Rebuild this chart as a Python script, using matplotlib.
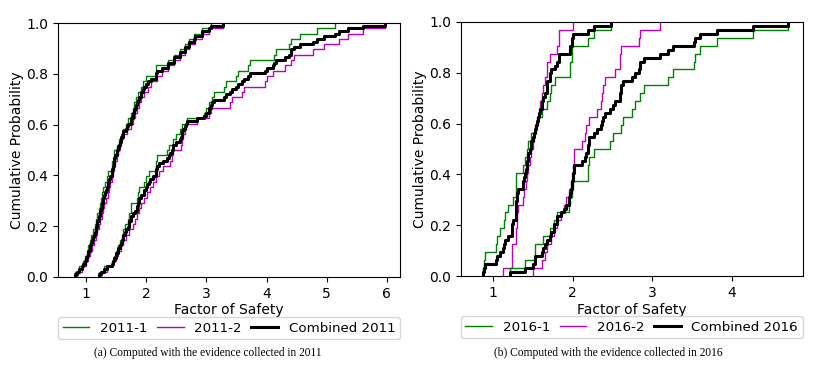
import matplotlib
matplotlib.use('Agg')
import matplotlib.pyplot as plt
import numpy as np

plt.rcParams['font.size'] = 10

# (a) 2011 - factor of safety samples, first group
fos_2011_1_a = [0.82, 0.88, 0.95, 0.99, 1.02, 1.04, 1.07, 1.09, 1.12, 1.15, 1.17, 1.19,
                1.21, 1.23, 1.25, 1.27, 1.29, 1.32, 1.35, 1.37, 1.43, 1.44, 1.46, 1.47,
                1.52, 1.55, 1.58, 1.62, 1.66, 1.70, 1.74, 1.78, 1.80, 1.83, 1.87, 1.91,
                1.95, 1.99, 2.16, 2.17, 2.36, 2.47, 2.57, 2.64, 2.72, 2.80, 2.92, 3.07]
fos_2011_2_a = [0.85, 0.93, 1.00, 1.04, 1.07, 1.10, 1.13, 1.16, 1.19, 1.22, 1.24, 1.26,
                1.28, 1.30, 1.33, 1.36, 1.38, 1.40, 1.43, 1.45, 1.47, 1.49, 1.52, 1.54,
                1.56, 1.58, 1.61, 1.68, 1.75, 1.78, 1.82, 1.85, 1.88, 1.91, 1.96, 2.03,
                2.08, 2.18, 2.27, 2.37, 2.47, 2.56, 2.64, 2.72, 2.82, 2.93, 3.05, 3.27]
# (a) 2011 - second group
fos_2011_1_b = [1.22, 1.30, 1.44, 1.47, 1.50, 1.53, 1.57, 1.60, 1.62, 1.65, 1.69, 1.72,
                1.75, 1.75, 1.85, 1.86, 1.88, 1.96, 2.00, 2.05, 2.17, 2.17, 2.18, 2.35,
                2.38, 2.45, 2.50, 2.56, 2.60, 2.68, 2.96, 3.00, 3.05, 3.10, 3.12, 3.30,
                3.32, 3.49, 3.52, 3.69, 3.72, 4.13, 4.15, 4.37, 4.40, 4.55, 4.84, 5.14]
fos_2011_2_b = [1.25, 1.35, 1.45, 1.50, 1.54, 1.58, 1.62, 1.66, 1.72, 1.78, 1.81, 1.84,
                1.88, 1.92, 1.96, 2.02, 2.07, 2.12, 2.17, 2.21, 2.28, 2.40, 2.43, 2.45,
                2.58, 2.60, 2.62, 2.64, 2.66, 2.84, 3.05, 3.08, 3.40, 3.42, 3.60, 3.62,
                3.97, 4.00, 4.10, 4.30, 4.40, 4.45, 4.77, 4.95, 5.20, 5.35, 5.60, 5.97]

# (b) 2016 - first group
fos_2016_1_a = [0.87, 0.88, 0.90, 1.04, 1.05, 1.09, 1.13, 1.15, 1.18, 1.25, 1.28, 1.28,
                1.29, 1.37, 1.40, 1.42, 1.44, 1.48, 1.54, 1.56, 1.61, 1.67, 1.71, 1.73,
                1.78, 1.96, 1.97, 1.985, 1.99, 2.19, 2.26, 2.48]
fos_2016_2_a = [1.12, 1.23, 1.23, 1.24, 1.29, 1.29, 1.30, 1.30, 1.31, 1.37, 1.39, 1.41,
                1.42, 1.44, 1.46, 1.48, 1.50, 1.51, 1.53, 1.545, 1.57, 1.59, 1.61, 1.63,
                1.65, 1.67, 1.68, 1.71, 1.80, 1.82, 1.82, 2.00]
# (b) 2016 - second group
fos_2016_1_b = [1.21, 1.40, 1.52, 1.53, 1.62, 1.71, 1.76, 1.80, 1.95, 1.97, 1.99, 2.00,
                2.19, 2.19, 2.20, 2.26, 2.47, 2.50, 2.60, 2.63, 2.74, 2.78, 2.84, 2.89,
                3.20, 3.26, 3.52, 3.54, 3.60, 3.81, 4.27, 4.70]
fos_2016_2_b = [1.50, 1.61, 1.65, 1.68, 1.72, 1.76, 1.80, 1.85, 1.89, 1.92, 1.95, 1.98,
                1.99, 2.00, 2.01, 2.02, 2.12, 2.15, 2.17, 2.20, 2.30, 2.36, 2.37, 2.375,
                2.40, 2.53, 2.59, 2.59, 2.60, 2.83, 2.845, 3.09]

labels_2011 = ['2011-1', '2011-2', 'Combined 2011']
labels_2016 = ['2016-1', '2016-2', 'Combined 2016']
captions = ['(a) Computed with the evidence collected in 2011',
            '(b) Computed with the evidence collected in 2016']


def draw_panel(ax, groups, labels, xlim, xticks):
    for k, (s1, s2) in enumerate(groups):
        lab = labels if k == 0 else [None, None, None]
        ax.ecdf(s1, color='g', lw=1.0, label=lab[0])
        ax.ecdf(s2, color='m', lw=1.0, label=lab[1])
        # combined = both evidence sets pooled
        ax.ecdf(np.concatenate([s1, s2]), color='k', lw=2.2, label=lab[2])
    ax.set_xlim(xlim)
    ax.set_ylim(0, 1)
    ax.set_xticks(xticks)
    ax.set_yticks([0, 0.2, 0.4, 0.6, 0.8, 1.0])
    ax.set_xlabel('Factor of Safety', labelpad=2)
    ax.set_ylabel('Cumulative Probability', labelpad=1.5)
    ax.legend(loc='upper left', bbox_to_anchor=(0, -0.157, 1, 0), mode='expand',
              ncol=3, borderaxespad=0, fontsize=9.6, handlelength=2.0,
              borderpad=0.35)


fig = plt.figure(figsize=(8.37, 3.7), dpi=100)
ax1 = fig.add_axes([0.0693, 0.2514, 0.4087, 0.6864])
ax2 = fig.add_axes([0.5504, 0.254, 0.4086, 0.687])

draw_panel(ax1, [(fos_2011_1_a, fos_2011_2_a), (fos_2011_1_b, fos_2011_2_b)],
           labels_2011, (0.535, 6.22), [1, 2, 3, 4, 5, 6])
draw_panel(ax2, [(fos_2016_1_a, fos_2016_2_a), (fos_2016_1_b, fos_2016_2_b)],
           labels_2016, (0.59, 4.89), [1, 2, 3, 4])

fig.text(0.248, 0.046, captions[0], ha='center', va='center',
         family='Liberation Serif', fontsize=8.3)
fig.text(0.7264, 0.046, captions[1], ha='center', va='center',
         family='Liberation Serif', fontsize=8.3)

fig.savefig('out.png', dpi=100)
